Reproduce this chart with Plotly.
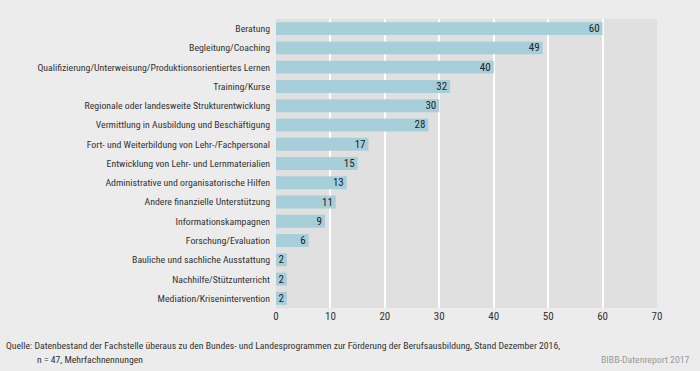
import plotly.graph_objects as go

categories = [
    "Beratung",
    "Begleitung/Coaching",
    "Qualifizierung/Unterweisung/Produktionsorientiertes Lernen",
    "Training/Kurse",
    "Regionale oder landesweite Strukturentwicklung",
    "Vermittlung in Ausbildung und Beschäftigung",
    "Fort- und Weiterbildung von Lehr-/Fachpersonal",
    "Entwicklung von Lehr- und Lernmaterialien",
    "Administrative und organisatorische Hilfen",
    "Andere finanzielle Unterstützung",
    "Informationskampagnen",
    "Forschung/Evaluation",
    "Bauliche und sachliche Ausstattung",
    "Nachhilfe/Stützunterricht",
    "Mediation/Krisenintervention",
]
values = [60, 49, 40, 32, 30, 28, 17, 15, 13, 11, 9, 6, 2, 2, 2]
x_ticks = [0, 10, 20, 30, 40, 50, 60, 70]

FONT = "Roboto Condensed, DejaVu Sans Condensed, sans-serif"

L, R, T, B = 276, 43, 19, 63
PW, PH = 700 - L - R, 371 - T - B

fig = go.Figure(go.Bar(
    x=values,
    y=categories,
    orientation="h",
    marker=dict(color="#a7cfd9", line=dict(width=0)),
    text=[str(v) for v in values],
    textposition="inside",
    insidetextanchor="end",
    textangle=0,
    constraintext="none",
    textfont=dict(family=FONT, size=11, color="#222222"),
    cliponaxis=False,
    hoverinfo="skip",
))

fig.update_layout(
    width=700, height=371,
    margin=dict(l=L, r=R, t=T, b=B, autoexpand=False),
    paper_bgcolor="#ececec",
    plot_bgcolor="#e0e0e0",
    bargap=0.33,
    showlegend=False,
    font=dict(family=FONT, size=10, color="#333333"),
    xaxis=dict(
        range=[0, 70], tickvals=x_ticks, ticktext=[str(t) for t in x_ticks],
        showgrid=True, gridcolor="#ffffff", gridwidth=2, zeroline=False,
        showline=False, ticks="", tickfont=dict(family=FONT, size=11, color="#333333"),
        fixedrange=True, automargin=False,
    ),
    yaxis=dict(
        autorange="reversed", showgrid=False, zeroline=False, showline=False,
        ticks="", ticklabelstandoff=5, tickfont=dict(family=FONT, size=9.8, color="#333333"),
        fixedrange=True, automargin=False,
    ),
    annotations=[
        dict(text="Quelle: Datenbestand der Fachstelle überaus zu den Bundes- und Landesprogrammen zur Förderung der Berufsausbildung, Stand Dezember 2016,",
             xref="paper", yref="paper", x=(4 - L) / PW, y=-(345 - (T + PH)) / PH, xanchor="left", yanchor="middle",
             showarrow=False, font=dict(family=FONT, size=9.7, color="#333333")),
        dict(text="n = 47, Mehrfachnennungen",
             xref="paper", yref="paper", x=(35 - L) / PW, y=-(359 - (T + PH)) / PH, xanchor="left", yanchor="middle",
             showarrow=False, font=dict(family=FONT, size=9.7, color="#333333")),
        dict(text="BIBB-Datenreport 2017",
             xref="paper", yref="paper", x=(692 - L) / PW, y=-(359 - (T + PH)) / PH, xanchor="right", yanchor="middle",
             showarrow=False, font=dict(family=FONT, size=9.8, color="#9a9a9a")),
    ],
)

fig.write_html("out.html", config={"displayModeBar": False, "staticPlot": True},
               post_script="document.body.style.margin='0';document.body.style.background='#ececec';")
